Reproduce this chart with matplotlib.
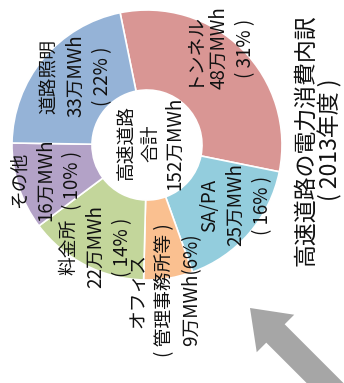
import matplotlib
matplotlib.use("Agg")
import matplotlib.pyplot as plt
from matplotlib import font_manager
from matplotlib.patches import FancyArrow

# 高速道路の電力消費内訳 (2013年度), 万MWh
names = ["トンネル", "SA/PA", "オフィス", "料金所", "その他", "道路照明"]
values = [48, 25, 9, 22, 16, 33]
shares = [31, 16, 6, 14, 10, 22]
colors = ["#D99694", "#93CDDD", "#FAC090", "#C3D69B", "#B3A2C7", "#95B3D7"]
total = 152
title = "高速道路の電力消費内訳\n( 2013年度 )"

installed = {f.name for f in font_manager.fontManager.ttflist}
jp = ["Noto Sans CJK JP", "DejaVu Sans"]
if "Liberation Sans Narrow" in installed:
    lab_font = ["Liberation Sans Narrow", "Noto Sans CJK JP", "DejaVu Sans"]
else:
    lab_font = jp

W, H = 344, 383
fig = plt.figure(figsize=(W / 100, H / 100), dpi=100)
ax = fig.add_axes([0, 0, 1, 1])

def P(x, y):
    # picture pixel -> axes coords (y up)
    return x, H - y

cx, cy = P(147, 145)
ax.pie(values, colors=colors, startangle=101.5, counterclock=False,
       center=(cx, cy), radius=135,
       wedgeprops=dict(width=80, edgecolor="white", linewidth=1.2))

# label texts
texts = []
for n, v, s in zip(names, values, shares):
    if n == "オフィス":
        texts.append(f"{n}\n( 管理事務所等 )\n{v}万MWh({s}%)")
    else:
        texts.append(f"{n}\n{v}万MWh\n( {s}% )")
label_pos = [(219, 48), (236, 205), (165, 290), (96, 247), (46, 180), (76, 76)]
for t, (x, y) in zip(texts, label_pos):
    ax.text(*P(x, y), t, rotation=90, ha="center", va="center",
            multialignment="center", fontsize=13.5, family=lab_font,
            linespacing=1.35, color="#111111")

ax.text(*P(151, 143), f"高速道路\n合計\n{total}万MWh", rotation=90,
        ha="center", va="center", multialignment="center",
        fontsize=13.5, family=lab_font, linespacing=1.2, color="#111111")

ax.text(*P(318, 140), title, rotation=90, ha="center", va="center",
        multialignment="center", fontsize=16.5, family=jp,
        linespacing=1.05, color="#111111")

# gray arrow
x0, y0 = P(365, 423)
ax.add_patch(FancyArrow(x0, y0, -115, 115, width=26, head_width=53,
                        head_length=36, length_includes_head=True,
                        color="#A6A6A6", lw=0))

ax.set_xlim(0, W)
ax.set_ylim(0, H)
ax.set_aspect("equal")
ax.axis("off")
fig.savefig("out.png", dpi=100, facecolor="white")
